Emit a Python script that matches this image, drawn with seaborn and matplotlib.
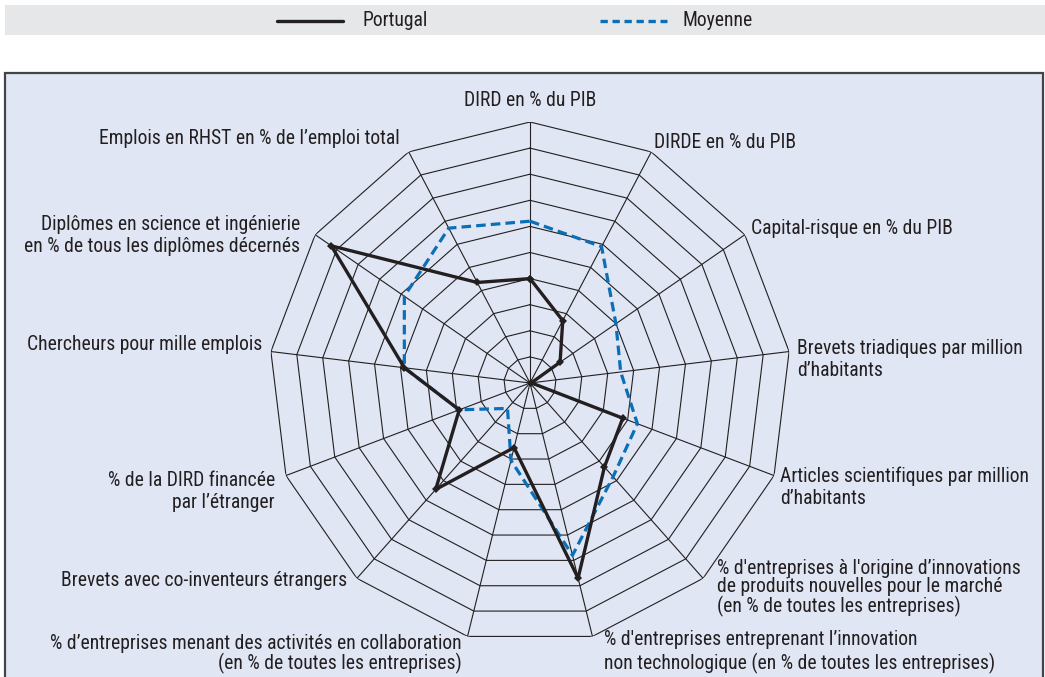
import numpy as np
import pandas as pd
import matplotlib
matplotlib.use('Agg')
import matplotlib.pyplot as plt
import seaborn as sns
from matplotlib import font_manager as fm
from matplotlib.patches import Rectangle
from matplotlib.lines import Line2D

# Radar axes (clockwise from the top)
labels = [
    "DIRD en % du PIB",
    "DIRDE en % du PIB",
    "Capital-risque en % du PIB",
    "Brevets triadiques par million\nd\u2019habitants",
    "Articles scientifiques par million\nd\u2019habitants",
    "% d'entreprises \u00e0 l'origine d\u2019innovations\nde produits nouvelles pour le march\u00e9\n(en % de toutes les entreprises)",
    "% d'entreprises entreprenant l\u2019innovation\nnon technologique (en % de toutes les entreprises)",
    "% d\u2019entreprises menant des activit\u00e9s en collaboration\n(en % de toutes les entreprises)",
    "Brevets avec co-inventeurs \u00e9trangers",
    "% de la DIRD financ\u00e9e\npar l\u2019\u00e9tranger",
    "Chercheurs pour mille emplois",
    "Dipl\u00f4mes en science et ing\u00e9nierie\nen % de tous les dipl\u00f4mes d\u00e9cern\u00e9s",
    "Emplois en RHST en % de l\u2019emploi total",
]

# values on the 0-10 ring scale
portugal = [4.0, 2.7, 1.4, 0.05, 3.8, 4.3, 7.7, 2.55, 5.45, 2.9, 4.85, 9.25, 4.35]
moyenne = [6.2, 5.9, 4.0, 3.5, 4.4, 4.8, 6.8, 3.05, 1.3, 2.9, 4.85, 5.85, 6.7]
rings = list(range(1, 11))

# label anchors in pixels (x, y, ha, linespacing)
label_pos = [
    (530, 101, 'center', 1.2),
    (654, 143, 'left', 1.2),
    (751, 228, 'left', 1.2),
    (797, 359, 'left', 1.2),
    (780, 487, 'left', 1.2),
    (717, 588, 'left', 0.95),
    (604, 652, 'left', 1.2),
    (462, 654, 'right', 0.95),
    (347, 581, 'right', 1.2),
    (275, 491, 'right', 1.2),
    (262, 345, 'right', 1.2),
    (300, 235, 'right', 1.2),
    (400, 138, 'right', 1.2),
]

sns.set_theme(style='white')


def pick_font():
    # the original uses a condensed grotesque; take the narrowest face we have
    wanted = ['Liberation Sans Narrow', 'Roboto Condensed', 'Open Sans Condensed',
              'Noto Sans Condensed', 'DejaVu Sans Condensed', 'Arial Narrow']
    fonts = fm.fontManager.ttflist
    names = {f.name for f in fonts}
    for w in wanted:
        if w in names:
            return w, 'normal'
    for base in ['Noto Sans', 'DejaVu Sans', 'Open Sans', 'Roboto', 'Liberation Sans']:
        for f in fonts:
            if f.name == base and str(f.stretch) in ('condensed', 'semi-condensed', '400', '500') \
                    and f.style == 'normal' and f.weight in (400, 'normal', 'regular'):
                if str(f.stretch) in ('condensed', 'semi-condensed'):
                    return base, f.stretch
    return 'Liberation Sans', 'normal'


font_name, font_stretch = pick_font()
plt.rcParams['font.family'] = [font_name, 'DejaVu Sans']
plt.rcParams['font.stretch'] = font_stretch

W, H = 1045, 677
text_col = '#231f20'
blue = '#0b6fb8'

fig = plt.figure(figsize=(W / 100, H / 100), dpi=100)

# size the font so the longest one-line label is as wide as in the original (~300 px)
renderer = fig.canvas.get_renderer()
probe = fig.text(0, 0, labels[12], fontsize=10)
probe_w = probe.get_window_extent(renderer).width
probe.remove()
fs = min(15.0, 10 * 300 / probe_w)

# legend band and chart box
fig.patches.append(Rectangle((5 / W, 1 - 35 / H), 1, 30 / H, transform=fig.transFigure,
                             facecolor='#e6e7e9', edgecolor='none', zorder=-2))
fig.patches.append(Rectangle((5 / W, -0.02), (1043 - 5) / W, 1 - 73 / H + 0.02,
                             transform=fig.transFigure, facecolor='#e0e6f4',
                             edgecolor='#444446', linewidth=1.6, zorder=-2))

# legend
ly = 1 - 21 / H
fig.lines.append(Line2D([277 / W, 343 / W], [ly, ly], transform=fig.transFigure,
                        color=text_col, lw=2.4))
fig.text(363 / W, ly, "Portugal", fontsize=fs, color=text_col, va='center')
fig.lines.append(Line2D([600 / W, 667 / W], [ly, ly], transform=fig.transFigure,
                        color=blue, lw=2.4, linestyle=(0, (2.2, 1.4))))
fig.text(683 / W, ly, "Moyenne", fontsize=fs, color=text_col, va='center')

# radar axes: centre (530, 383), radius 261 px
cx, cy, R = 530, 383, 261
ax = fig.add_axes([(cx - R) / W, (H - cy - R) / H, 2 * R / W, 2 * R / H], projection='polar')
ax.set_theta_zero_location('N')
ax.set_theta_direction(-1)
ax.set_ylim(0, 10)
ax.set_axis_off()

n = len(labels)
theta = np.arange(n) * 2 * np.pi / n
closed = np.append(theta, theta[0])

for r in rings:
    ax.plot(closed, [r] * (n + 1), color=text_col, lw=0.8, zorder=1)
for t in theta:
    ax.plot([t, t], [0, rings[-1]], color=text_col, lw=0.8, zorder=1)

df = pd.DataFrame({
    'theta': np.concatenate([closed, closed]),
    'value': portugal + portugal[:1] + moyenne + moyenne[:1],
    'serie': ['Portugal'] * (n + 1) + ['Moyenne'] * (n + 1),
})
sub = df[df.serie == 'Moyenne']
sns.lineplot(data=sub, x='theta', y='value', sort=False, ax=ax, color=blue, lw=2.3,
             linestyle=(0, (3.0, 1.6)), zorder=3, legend=False, estimator=None)
sub = df[df.serie == 'Portugal']
sns.lineplot(data=sub, x='theta', y='value', sort=False, ax=ax, color=text_col, lw=2.4,
             marker='D', markersize=4, markeredgewidth=0, zorder=4, legend=False,
             estimator=None)

for lab, (x, y, ha, ls) in zip(labels, label_pos):
    fig.text(x / W, 1 - y / H, lab, fontsize=fs, color=text_col, ha=ha, va='center',
             multialignment=ha if ha != 'center' else 'center', linespacing=ls)

fig.savefig('out.png', dpi=100)
